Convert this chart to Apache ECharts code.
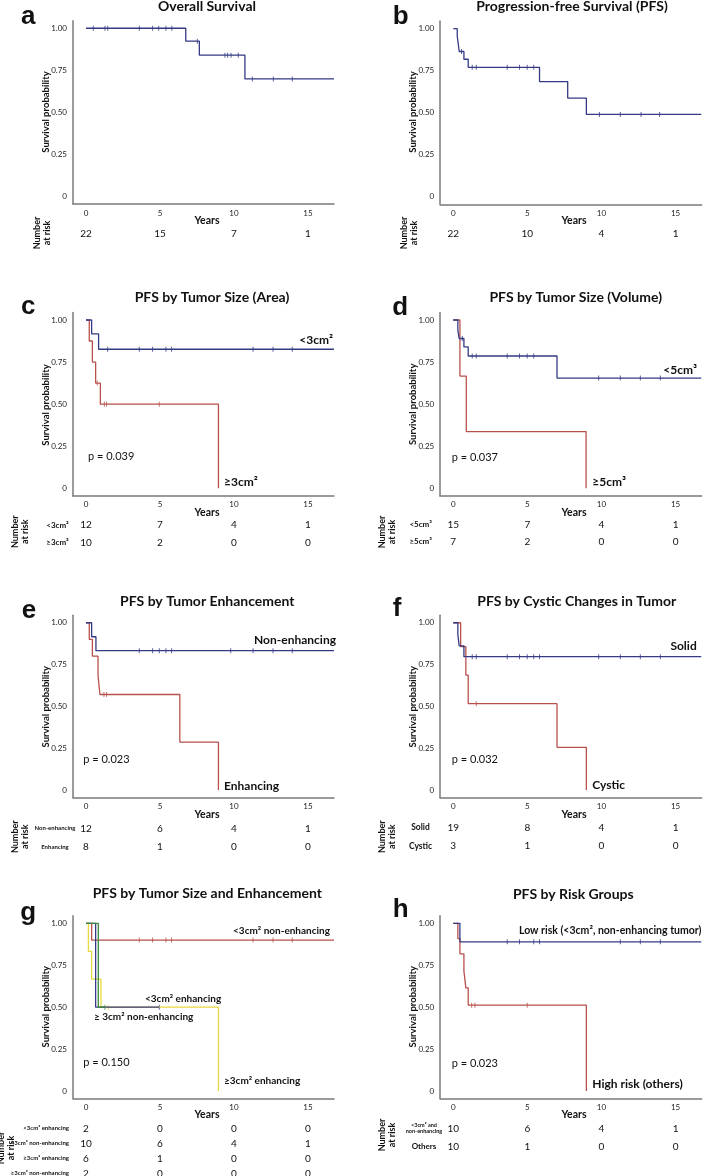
<!DOCTYPE html>
<html>
<head>
<meta charset="utf-8">
<script src="https://cdn.jsdelivr.net/npm/echarts@6/dist/echarts.min.js"></script>
<style>html,body{margin:0;padding:0;background:#fff;}#c{width:709px;height:1176px;}</style>
</head>
<body>
<div id="c"></div>
<script>
// ---------------- DATA ----------------
const riskTimes = [0, 5, 10, 15];
const xTickLabels = [0, 5, 10, 15];
const yTickLabels = [0, 0.25, 0.5, 0.75, 1];

// a: Overall Survival
const aTimes = [0, 6.74, 7.66, 10.74, 16.76];
const aSurv  = [1.00, 0.923, 0.840, 0.699, 0.699];
const aCens  = [0.49, 1.28, 1.47, 3.6, 4.5, 4.91, 5.4, 5.8, 7.52, 9.39, 9.57, 9.8, 10.29, 11.24, 12.66, 13.94];
const aRisk  = [22, 15, 7, 1];

// b: PFS
const bTimes = [0, 0.27, 0.34, 0.40, 0.72, 1.01, 5.82, 7.72, 8.98, 16.73];
const bSurv  = [1.00, 0.955, 0.909, 0.864, 0.818, 0.770, 0.685, 0.587, 0.490, 0.490];
const bCens  = [0.56, 1.28, 1.55, 3.64, 4.47, 4.99, 5.43, 9.86, 11.27, 12.67, 13.92];
const bRisk  = [22, 10, 4, 1];

// c: PFS by tumor size (area)
const cSmallTimes = [0, 0.38, 0.85, 16.76];
const cSmallSurv  = [1.00, 0.917, 0.826, 0.826];
const cSmallCens  = [1.46, 3.6, 4.5, 5.4, 5.78, 11.29, 12.64, 13.94];
const cLargeTimes = [0, 0.22, 0.43, 0.65, 0.97, 8.95];
const cLargeSurv  = [1.00, 0.875, 0.75, 0.625, 0.50, 0];
const cLargeCens  = [0.76, 1.24, 1.39, 4.95];
const cRiskLabels = ['<3cm²', '≥3cm²'];
const cRiskSmall  = [12, 7, 4, 1];
const cRiskLarge  = [10, 2, 0, 0];

// d: PFS by tumor size (volume)
const dSmallTimes = [0, 0.31, 0.40, 0.72, 1.01, 7.0, 16.73];
const dSmallSurv  = [1.00, 0.94, 0.89, 0.84, 0.786, 0.655, 0.655];
const dSmallCens  = [0.61, 1.28, 1.55, 3.64, 4.47, 4.99, 5.43, 9.81, 11.27, 12.62, 13.97];
const dLargeTimes = [0, 0.45, 0.88, 8.96];
const dLargeSurv  = [1.00, 0.667, 0.337, 0];
const dLargeCens  = [];
const dRiskLabels = ['<5cm³', '≥5cm³'];
const dRiskSmall  = [15, 7, 4, 1];
const dRiskLarge  = [7, 2, 0, 0];

// e: PFS by tumor enhancement
const eNonTimes = [0, 0.38, 0.67, 16.76];
const eNonSurv  = [1.00, 0.916, 0.833, 0.833];
const eNonCens  = [3.6, 4.5, 4.95, 5.4, 5.78, 9.78, 11.29, 12.64, 13.94];
const eEnhTimes = [0, 0.22, 0.43, 0.81, 0.94, 6.34, 8.95];
const eEnhSurv  = [1.00, 0.9, 0.8, 0.686, 0.571, 0.286, 0];
const eEnhCens  = [1.21, 1.39];
const eRiskLabels = ['Non-enhancing', 'Enhancing'];
const eRiskNon  = [12, 6, 4, 1];
const eRiskEnh  = [8, 1, 0, 0];

// f: PFS by cystic changes
const fSolidTimes = [0, 0.31, 0.40, 0.72, 16.73];
const fSolidSurv  = [1.00, 0.93, 0.862, 0.797, 0.797];
const fSolidCens  = [1.28, 1.55, 3.64, 4.47, 4.99, 5.43, 5.82, 9.81, 11.27, 12.62, 13.97];
const fCystTimes  = [0, 0.50, 0.85, 1.01, 7.0, 8.98];
const fCystSurv   = [1.00, 0.857, 0.687, 0.516, 0.255, 0];
const fCystCens   = [1.55];
const fRiskLabels = ['Solid', 'Cystic'];
const fRiskSolid  = [19, 8, 4, 1];
const fRiskCyst   = [3, 1, 0, 0];

// g: PFS by tumor size and enhancement
const gSmallNonTimes = [0, 0.38, 16.76];
const gSmallNonSurv  = [1.00, 0.90, 0.90];
const gSmallNonCens  = [3.6, 4.5, 5.4, 5.78, 11.29, 12.64, 13.94];
const gLargeEnhTimes = [0, 0.16, 0.38, 1.01, 8.95];
const gLargeEnhSurv  = [1.00, 0.833, 0.667, 0.5, 0];
const gLargeEnhCens  = [1.5];
const gSmallEnhTimes = [0, 0.65, 4.95];
const gSmallEnhSurv  = [1.00, 0.5, 0.5];
const gSmallEnhCens  = [4.95];
const gLargeNonTimes = [0, 0.83, 1.28];
const gLargeNonSurv  = [1.00, 0.5, 0.5];
const gLargeNonCens  = [1.28];
const gRiskLabels = ['<3cm² enhancing', '<3cm² non-enhancing', '≥3cm² enhancing', '≥3cm² non-enhancing'];
const gRiskSmallEnh = [2, 0, 0, 0];
const gRiskSmallNon = [10, 6, 4, 1];
const gRiskLargeEnh = [6, 1, 0, 0];
const gRiskLargeNon = [2, 0, 0, 0];

// h: PFS by risk groups
const hLowTimes  = [0, 0.45, 16.73];
const hLowSurv   = [1.00, 0.89, 0.89];
const hLowCens   = [3.64, 4.47, 5.43, 5.82, 11.27, 12.62, 13.97];
const hHighTimes = [0, 0.31, 0.45, 0.72, 0.85, 1.01, 8.98];
const hHighSurv  = [1.00, 0.909, 0.818, 0.715, 0.615, 0.512, 0];
const hHighCens  = [1.24, 1.46, 4.99];
const hRiskLabels = ['<3cm² and\nnon-enhancing', 'Others'];
const hRiskLow  = [10, 6, 4, 1];
const hRiskHigh = [10, 1, 0, 0];

// ---------------- STYLE / LAYOUT ----------------
const BLUE = '#343a84', RED = '#b8514b', YELLOW = '#e6d83e', GREEN = '#3d8b3d';
const FONT = 'Lato, "Liberation Sans", sans-serif';
const XMIN = -0.88, XMAX = 16.76, YMIN = -0.045, YMAX = 1.045;

const L = 73, R = 440.2, WL = 261, WR = 261.5;
const panels = [
  { grid:{left:L, top:20.7, width:WL, height:183.3}, title:'Overall Survival', tx:207, ty:6, letter:'a', lx:28.3, ly:17, yl:[46,112], yr:[207,221], nar:[42.3,233],
    curves:[[aTimes,aSurv,aCens,BLUE]], risk:[{lab:'',v:aRisk,y:234}], p:null, labels:[] },
  { grid:{left:R, top:21.1, width:WR, height:183.2}, title:'Progression-free Survival (PFS)', tx:572, ty:6, letter:'b', lx:400.7, ly:17, yl:[413.3,112], yr:[574,221], nar:[409,233],
    curves:[[bTimes,bSurv,bCens,BLUE]], risk:[{lab:'',v:bRisk,y:234}], p:null, labels:[] },
  { grid:{left:L, top:312.4, width:WL, height:183.5}, title:'PFS by Tumor Size (Area)', tx:212, ty:297.7, letter:'c', lx:28.3, ly:307, yl:[46,405], yr:[207,512.7], nar:[20,531.7],
    curves:[[cLargeTimes,cLargeSurv,cLargeCens,RED],[cSmallTimes,cSmallSurv,cSmallCens,BLUE]],
    risk:[{lab:cRiskLabels[0],v:cRiskSmall,y:525},{lab:cRiskLabels[1],v:cRiskLarge,y:542.3}], rlx:57.5, rls:8,
    p:['p = 0.039',88,456.7], labels:[['<3cm²',333,340,'right',12],['≥3cm²',224,481.7,'left',12]] },
  { grid:{left:R, top:312.4, width:WR, height:183.5}, title:'PFS by Tumor Size (Volume)', tx:575.7, ty:297.7, letter:'d', lx:400.3, ly:307.6, yl:[413.3,404.3], yr:[574,512.7], nar:[387,532],
    curves:[[dLargeTimes,dLargeSurv,dLargeCens,RED],[dSmallTimes,dSmallSurv,dSmallCens,BLUE]],
    risk:[{lab:dRiskLabels[0],v:dRiskSmall,y:524.3},{lab:dRiskLabels[1],v:dRiskLarge,y:541.7}], rlx:420.7, rls:8,
    p:['p = 0.037',451.7,457.7], labels:[['<5cm³',697,370,'right',12],['≥5cm³',592.3,482.3,'left',12]] },
  { grid:{left:L, top:615.2, width:WL, height:182.3}, title:'PFS by Tumor Enhancement', tx:207.3, ty:601.7, letter:'e', lx:29, ly:611, yl:[46,706.7], yr:[207,814.3], nar:[20,836.7],
    curves:[[eEnhTimes,eEnhSurv,eEnhCens,RED],[eNonTimes,eNonSurv,eNonCens,BLUE]],
    risk:[{lab:eRiskLabels[0],v:eRiskNon,y:828.3},{lab:eRiskLabels[1],v:eRiskEnh,y:846.7}], rlx:55, rls:6,
    p:['p = 0.023',83.3,759], labels:[['Non-enhancing',336,640,'right',12],['Enhancing',224,785.7,'left',12]] },
  { grid:{left:R, top:615.2, width:WR, height:182.3}, title:'PFS by Cystic Changes in Tumor', tx:576.7, ty:601.7, letter:'f', lx:397, ly:609.3, yl:[413.3,706.7], yr:[574,814.3], nar:[387,836.7],
    curves:[[fCystTimes,fCystSurv,fCystCens,RED],[fSolidTimes,fSolidSurv,fSolidCens,BLUE]],
    risk:[{lab:fRiskLabels[0],v:fRiskSolid,y:827.7},{lab:fRiskLabels[1],v:fRiskCyst,y:846}], rlx:420.5, rls:8.5,
    p:['p = 0.032',451.7,759], labels:[['Solid',696.7,645.7,'right',12],['Cystic',592.3,785,'left',12]] },
  { grid:{left:L, top:915.8, width:WL, height:182.7}, title:'PFS by Tumor Size and Enhancement', tx:207.3, ty:893.3, letter:'g', lx:28.3, ly:912.6, yl:[46,1006.7], yr:[207,1115], nar:[6,1148],
    curves:[[gSmallNonTimes,gSmallNonSurv,gSmallNonCens,RED],[gLargeEnhTimes,gLargeEnhSurv,gLargeEnhCens,YELLOW],[gSmallEnhTimes,gSmallEnhSurv,gSmallEnhCens,BLUE],[gLargeNonTimes,gLargeNonSurv,gLargeNonCens,GREEN]],
    risk:[{lab:gRiskLabels[0],v:gRiskSmallEnh,y:1128.3},{lab:gRiskLabels[1],v:gRiskSmallNon,y:1143.3},{lab:gRiskLabels[2],v:gRiskLargeEnh,y:1158.3},{lab:gRiskLabels[3],v:gRiskLargeNon,y:1173.3}], rlx:69, rla:'right', rls:6,
    p:['p = 0.150',83.3,1062.3], labels:[['<3cm² non-enhancing',330,931,'right',10],['<3cm² enhancing',145,999,'left',10],['≥ 3cm² non-enhancing',94,1016.7,'left',10],['≥3cm² enhancing',224,1081,'left',10]] },
  { grid:{left:R, top:915.8, width:WR, height:182.7}, title:'PFS by Risk Groups', tx:573.3, ty:894, letter:'h', lx:400.7, ly:910, yl:[413.3,1006.7], yr:[574,1114.3], nar:[387,1135],
    curves:[[hHighTimes,hHighSurv,hHighCens,RED],[hLowTimes,hLowSurv,hLowCens,BLUE]],
    risk:[{lab:hRiskLabels[0],v:hRiskLow,y:1128.3,small:true},{lab:hRiskLabels[1],v:hRiskHigh,y:1146.7}], rlx:424, rls:8,
    p:['p = 0.023',451.7,1063.3], labels:[['Low risk (<3cm², non-enhancing tumor)',519,931,'left',10.5],['High risk (others)',592.3,1084.3,'left',12]] }
];

function survAt(T, S, t) {
  let s = S[0];
  for (let i = 0; i < T.length; i++) if (T[i] <= t) s = S[i];
  return s;
}

const grids = [], xAxes = [], yAxes = [], series = [];
panels.forEach((p, i) => {
  grids.push(Object.assign({ containLabel: false }, p.grid));
  xAxes.push({ type:'value', gridIndex:i, min:XMIN, max:XMAX,
    axisLine:{ show:true, onZero:false, lineStyle:{ color:'#7a7a7a', width:1.5 } },
    axisTick:{ show:false }, splitLine:{ show:false },
    axisLabel:{ customValues:xTickLabels, fontSize:8, color:'#222', margin:5, fontFamily:FONT } });
  yAxes.push({ type:'value', gridIndex:i, min:YMIN, max:YMAX,
    axisLine:{ show:true, onZero:false, lineStyle:{ color:'#7a7a7a', width:1.5 } },
    axisTick:{ show:false }, splitLine:{ show:false },
    axisLabel:{ customValues:yTickLabels, fontSize:8, color:'#222', margin:6, fontFamily:FONT,
      formatter: v => (v === 0 ? '0' : v.toFixed(2)) } });
  p.curves.forEach(([T, S, C, col]) => {
    series.push({ type:'line', xAxisIndex:i, yAxisIndex:i, step:'end', showSymbol:false, silent:true,
      data: T.map((t, k) => [t, S[k]]), lineStyle:{ color:col, width:1.3 }, animation:false });
    series.push({ type:'scatter', xAxisIndex:i, yAxisIndex:i, symbol:'rect', symbolSize:[1, 5], silent:true,
      itemStyle:{ color:col }, data: C.map(t => [t, survAt(T, S, t)]), animation:false });
  });
});

const chart = echarts.init(document.getElementById('c'), null, { renderer:'canvas' });
chart.setOption({ animation:false, backgroundColor:'#fff', grid:grids, xAxis:xAxes, yAxis:yAxes, series:series });

function txt(text, x, y, opt) {
  opt = opt || {};
  return { type:'text', x:x, y:y, rotation:opt.rot || 0, silent:true,
    style:{ text:text, x:0, y:0, fill:opt.color || '#111', align:opt.align || 'center', verticalAlign:'middle',
      fontSize:opt.size || 10, fontWeight:opt.weight || 'normal', fontFamily:opt.family || FONT, lineHeight:opt.lh } };
}

const graphics = [];
panels.forEach((p, i) => {
  graphics.push(txt(p.title, p.tx, p.ty, { size:14, weight:'bold' }));
  graphics.push(txt(p.letter, p.lx, p.ly, { size:26, weight:'bold', family:'"Liberation Sans", Arial, sans-serif' }));
  graphics.push(txt('Survival probability', p.yl[0], p.yl[1], { size:9.5, weight:'bold', rot:Math.PI/2 }));
  graphics.push(txt('Years', p.yr[0], p.yr[1], { size:10.5, weight:'bold' }));
  graphics.push(txt('Number\nat risk', p.nar[0], p.nar[1], { size:9, weight:'bold', rot:Math.PI/2, lh:10 }));
  if (p.p) graphics.push(txt(p.p[0], p.p[1], p.p[2], { size:11, align:'left' }));
  p.labels.forEach(l => graphics.push(txt(l[0], l[1], l[2], { size:l[4], weight:'bold', align:l[3] })));
  p.risk.forEach(r => {
    if (r.lab) graphics.push(txt(r.lab, p.rlx, r.y, { size:r.small ? 5.5 : p.rls, weight:'bold', align:p.rla || 'center', lh:r.small ? 6.5 : undefined }));
    r.v.forEach((v, k) => {
      const px = chart.convertToPixel({ xAxisIndex:i }, riskTimes[k]);
      graphics.push(txt(String(v), px, r.y, { size:10 }));
    });
  });
});
chart.setOption({ graphic:{ elements:graphics } });
</script>
</body>
</html>
